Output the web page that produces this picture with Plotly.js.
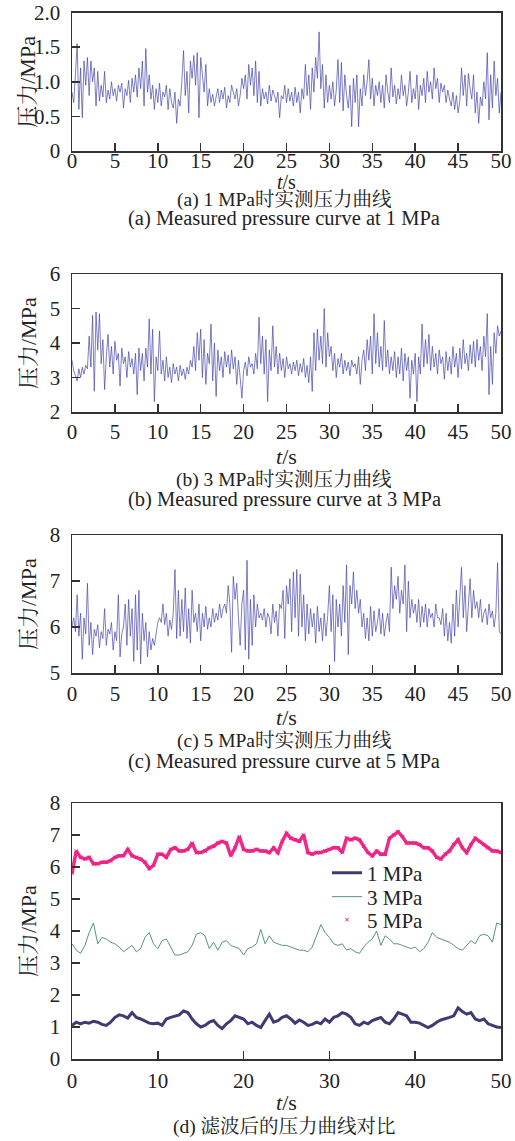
<!DOCTYPE html>
<html><head><meta charset="utf-8">
<script src="https://cdn.plot.ly/plotly-3.0.1.min.js"></script>
<style>html,body{margin:0;padding:0;background:#fff}#chart{width:515px;height:1141px}</style>
</head><body><div id="chart"></div>
<script>
// ---- data ----
// raw measured series, sampled every 0.2 s from 0 to 50 s
const raw1MPa = [
0.85,0.70,1.10,1.55,0.60,1.20,0.48,1.30,0.95,1.35,
0.80,1.30,1.00,1.20,0.65,1.15,0.72,0.95,0.78,1.15,
0.70,0.88,0.75,1.00,0.80,0.90,0.72,0.95,0.85,0.98,
0.62,0.90,0.80,1.02,0.70,1.05,0.85,1.10,0.78,1.20,
0.90,1.30,0.65,1.48,0.85,1.10,0.75,0.95,0.60,0.90,
0.70,0.98,0.65,0.85,0.78,0.95,0.60,0.90,0.70,0.62,
0.85,0.40,0.75,0.65,1.00,1.45,0.80,1.15,0.55,1.30,
1.05,1.38,0.95,1.42,0.48,1.35,1.10,0.85,1.25,0.65,
0.90,0.70,0.82,0.65,0.78,0.90,0.70,0.88,0.75,0.92,
0.62,0.80,0.70,0.95,0.85,0.75,0.90,0.65,0.80,1.05,
0.90,1.10,0.75,1.25,0.95,1.20,0.80,1.30,0.70,1.15,
0.65,0.90,0.75,0.85,0.68,0.95,0.72,0.88,0.80,0.70,
0.85,0.48,0.80,0.75,0.95,0.70,0.90,0.72,0.85,0.65,
0.92,0.70,0.85,0.55,0.90,0.75,1.25,0.80,1.10,0.60,
1.20,0.85,1.35,1.05,1.72,0.90,1.25,0.62,1.10,0.70,
0.95,0.75,1.00,0.65,0.88,1.32,0.70,1.28,0.58,1.10,
0.80,0.62,0.95,0.35,1.05,0.70,1.10,0.35,0.90,0.65,
1.10,0.80,1.00,1.32,0.75,1.05,0.65,0.95,0.80,1.00,
0.70,0.95,0.62,1.10,0.85,0.70,1.20,0.78,0.95,0.68,
0.90,0.75,1.10,0.80,0.95,0.65,0.85,1.15,0.70,0.90,
0.75,1.10,0.60,0.95,0.80,1.05,0.70,1.15,0.85,1.00,
0.75,1.20,0.90,1.05,0.70,0.98,0.85,0.95,0.70,0.88,
0.75,0.65,0.85,0.60,0.80,0.55,0.72,1.20,0.80,1.10,
0.65,1.12,0.90,0.75,1.10,0.55,0.85,0.40,0.78,0.65,
1.00,0.75,1.42,0.45,1.10,0.62,1.30,0.80,1.05,0.55,
0.85];
const raw3MPa = [
3.50,3.20,3.05,2.90,3.25,3.00,3.30,3.10,3.35,3.25,
4.20,3.30,4.80,2.60,4.90,3.80,4.85,3.40,4.10,2.65,
3.60,4.25,3.30,3.90,3.10,4.05,3.50,3.70,2.75,3.85,
3.40,3.60,3.00,3.75,3.30,3.55,3.10,3.70,2.50,3.85,
3.20,3.70,2.90,3.85,3.30,4.70,3.10,4.40,2.30,3.60,
3.20,4.35,3.10,3.50,2.90,3.60,3.00,3.30,2.85,3.40,
3.10,3.30,2.90,3.35,3.05,3.25,2.95,3.30,3.10,3.50,
3.30,3.90,3.20,4.30,3.50,4.40,3.00,4.10,2.80,3.70,
3.40,4.55,2.90,4.00,2.45,3.80,3.20,3.60,3.00,3.75,
3.30,3.65,3.10,3.80,3.25,3.60,2.80,3.50,3.00,2.40,
3.20,3.45,3.05,3.60,3.30,3.40,3.10,3.70,3.25,4.75,
3.40,4.20,3.10,4.10,2.30,3.80,3.20,4.50,3.30,3.90,
3.10,3.70,3.20,3.55,3.00,3.60,3.25,3.40,3.10,3.45,
3.20,3.50,3.05,3.40,3.15,3.55,3.00,3.35,2.85,3.60,
2.60,4.30,3.20,4.40,3.50,4.20,3.40,5.00,3.30,4.30,
3.60,3.90,3.20,3.70,3.00,3.55,3.30,3.70,3.10,3.50,
3.20,3.45,3.05,3.50,3.30,3.40,3.10,3.60,2.80,3.50,
3.80,3.20,4.10,3.50,4.20,3.10,4.85,3.40,4.30,3.30,
3.90,3.20,4.65,3.30,3.80,3.10,3.60,3.20,3.75,3.00,
3.60,3.10,3.85,2.90,3.70,3.20,3.60,2.40,3.50,3.10,
3.70,2.30,3.60,3.10,4.55,3.30,4.10,3.40,4.25,3.20,
3.90,3.30,3.70,3.10,3.80,3.40,3.60,2.95,3.75,3.20,
3.60,3.10,3.90,3.30,3.70,3.00,3.85,3.25,4.10,3.40,
3.70,3.20,3.95,3.40,4.05,3.30,4.10,3.50,3.90,3.20,
4.20,3.60,4.85,2.50,3.90,2.80,4.30,3.70,4.50,4.20,
4.35];
const raw5MPa = [
6.00,6.20,5.90,6.70,5.80,6.30,5.30,6.20,5.85,6.95,
5.60,6.10,5.40,5.95,5.80,6.05,5.55,5.90,5.75,6.40,
5.60,5.95,5.85,6.10,5.50,5.90,5.70,6.70,5.35,5.85,
6.00,6.50,5.60,6.60,5.80,6.40,5.25,6.70,5.50,6.80,
5.20,6.30,5.70,6.10,5.35,5.90,5.50,5.75,5.60,5.85,
6.10,6.20,6.10,6.50,6.05,6.30,5.80,6.15,5.95,6.30,
7.25,5.75,6.80,5.80,6.60,5.90,6.85,5.75,6.40,5.65,
6.80,6.10,6.30,5.90,6.50,5.70,6.30,6.00,6.45,5.95,
6.20,6.00,6.40,6.10,6.30,6.15,6.50,6.20,6.40,6.50,
6.30,6.90,6.50,5.45,7.10,6.60,6.95,6.20,5.60,6.50,
6.80,5.50,7.45,5.30,6.60,5.60,6.70,6.00,6.50,6.20,
6.30,6.15,6.40,6.00,6.30,6.20,5.85,6.50,6.10,6.35,
5.80,6.50,6.40,6.80,5.75,6.90,6.50,7.05,5.90,7.20,
6.20,7.25,5.80,7.15,6.00,6.70,5.70,6.50,5.85,6.40,
6.00,6.30,5.65,6.45,5.90,6.20,5.70,6.30,5.80,6.25,
6.90,5.90,6.70,5.25,6.60,6.00,6.50,5.80,6.90,6.10,
7.35,5.40,6.90,6.50,7.20,6.40,6.80,6.30,6.60,6.00,
6.30,5.75,6.20,5.70,6.45,5.80,6.35,5.90,6.10,6.40,
5.85,6.30,5.80,6.10,6.30,5.90,7.30,6.40,6.90,6.60,
7.10,6.30,6.80,6.50,7.35,5.90,7.00,6.20,6.60,6.30,
6.50,6.10,6.60,6.00,6.45,6.10,6.50,6.00,6.40,6.20,
6.30,6.00,6.50,6.20,6.20,6.05,6.40,5.80,6.30,5.70,
6.10,5.65,6.50,5.80,6.80,6.00,6.60,7.30,6.20,6.90,
5.90,6.60,7.05,6.20,6.80,6.40,6.55,6.20,6.60,6.10,
6.30,6.40,6.05,6.50,6.20,6.35,6.00,6.30,7.40,5.90,
5.85];
// filtered series, sampled every 0.5 s from 0 to 50 s
const filt1MPa = [
1.05,1.15,1.10,1.15,1.12,1.18,1.15,1.08,1.05,1.15,
1.30,1.38,1.35,1.28,1.45,1.30,1.25,1.18,1.12,1.10,
1.12,1.05,1.25,1.30,1.35,1.38,1.50,1.45,1.25,1.10,
1.00,1.05,1.15,1.20,1.05,0.95,1.10,1.20,1.35,1.30,
1.25,1.10,1.15,1.05,0.98,1.20,1.40,1.15,1.20,1.30,
1.35,1.25,1.12,1.22,1.15,1.05,1.08,1.15,1.10,1.25,
1.15,1.30,1.35,1.45,1.40,1.30,1.10,1.05,1.15,1.10,
1.20,1.25,1.30,1.15,1.10,1.25,1.45,1.40,1.35,1.15,
1.15,1.12,1.05,0.98,1.05,1.15,1.22,1.25,1.30,1.35,
1.60,1.48,1.40,1.45,1.25,1.20,1.25,1.10,1.05,1.00,
0.98];
const filt3MPa = [
3.60,3.40,3.30,3.55,3.95,4.25,3.60,3.80,3.75,3.65,
3.60,3.50,3.35,3.45,3.55,3.35,3.45,3.80,3.95,3.60,
3.45,3.70,3.75,3.50,3.25,3.25,3.30,3.35,3.55,3.90,
3.95,3.85,3.45,3.65,3.40,3.65,3.70,3.55,3.50,3.45,
3.25,3.45,3.50,3.60,4.05,3.60,3.85,3.65,3.60,3.55,
3.55,3.50,3.45,3.40,3.40,3.35,3.50,3.85,4.20,3.95,
3.80,3.60,3.55,3.60,3.40,3.45,3.35,3.30,3.50,3.65,
3.75,4.00,3.55,3.85,3.75,3.60,3.60,3.55,3.50,3.45,
3.50,3.35,3.45,3.65,3.95,3.80,3.75,3.70,3.65,3.55,
3.45,3.40,3.55,3.70,3.60,3.85,3.90,3.85,3.65,4.25,
4.20];
const filt5MPa = [
5.80,6.50,6.30,6.25,6.30,6.10,6.10,6.15,6.15,6.20,
6.30,6.35,6.35,6.55,6.35,6.30,6.25,6.15,5.95,6.05,
6.40,6.40,6.30,6.55,6.60,6.50,6.50,6.55,6.75,6.45,
6.45,6.50,6.60,6.65,6.75,6.80,6.75,6.35,6.60,6.95,
6.55,6.50,6.50,6.55,6.50,6.50,6.45,6.60,6.45,6.80,
7.05,6.90,6.85,6.80,7.00,6.45,6.40,6.45,6.45,6.50,
6.55,6.60,6.60,6.45,6.90,6.85,6.90,6.85,6.65,6.45,
6.35,6.50,6.40,6.40,6.90,7.00,7.10,6.95,6.75,6.75,
6.75,6.70,6.60,6.60,6.50,6.30,6.25,6.40,6.50,6.70,
6.85,6.60,6.45,6.70,6.90,6.80,6.70,6.60,6.50,6.50,
6.45];
// tick labels
const xTicks5 = [0,5,10,15,20,25,30,35,40,45,50];
const xTicks10 = [0,10,20,30,40,50];
const yTicksA = [0,0.5,1.0,1.5,2.0];
const yTextA = ['0','0.5','1.0','1.5','2.0'];
const yTicksB = [2,3,4,5,6];
const yTicksC = [5,6,7,8];
const yTicksD = [0,1,2,3,4,5,6,7,8];
const seriesNames = ['1 MPa','3 MPa','5 MPa'];
const captions = [
  ['(a) 1 MPa时实测压力曲线','(a) Measured pressure curve at 1 MPa'],
  ['(b) 3 MPa时实测压力曲线','(b) Measured pressure curve at 3 MPa'],
  ['(c) 5 MPa时实测压力曲线','(c) Measured pressure curve at 5 MPa'],
  ['(d) 滤波后的压力曲线对比']
];
const yTitle = '压力/MPa';
const xTitle = '<i>t</i>/s';

// ---- sampling grids ----
function grid(n, dt){ const a=[]; for(let i=0;i<n;i++) a.push(+(i*dt).toFixed(2)); return a; }
const tRaw = grid(raw1MPa.length, 0.2);
const tFilt = grid(filt1MPa.length, 0.5);

// ---- layout helpers ----
const W=515, H=1141;
const FONT = "'Liberation Serif','Times New Roman','Noto Serif CJK SC','Noto Sans CJK SC',serif";
const TXT = '#222';
const xDom = [72/W, 501/W];
const panels = [ // px positions
  {top:12.5, bottom:151, lab:-10, tt:182, ts:20, c1:200, c2:219},
  {top:274, bottom:412, lab:0, tt:456, ts:22, c1:480, c2:500},
  {top:535, bottom:673, lab:1, tt:717, ts:22, c1:741, c2:761},
  {top:803, bottom:1059, lab:2, tt:1102, ts:22, c1:1127}
];
function yd(p){ return [1-p.bottom/H, 1-p.top/H]; }
function py(v){ return 1-v/H; }
function baseAx(extra){
  return Object.assign({
    showline:true, mirror:true, linecolor:'#333', linewidth:1.5,
    ticks:'inside', ticklen:8, tickwidth:1.5, tickcolor:'#333',
    showgrid:false, zeroline:false, fixedrange:true,
    tickfont:{family:FONT, size:21, color:TXT}
  }, extra);
}
const rawColor = '#4646aa';
const traces = [
  {x:tRaw, y:raw1MPa, xaxis:'x', yaxis:'y', mode:'lines', line:{color:rawColor, width:0.7}, showlegend:false, hoverinfo:'skip'},
  {x:tRaw, y:raw3MPa, xaxis:'x2', yaxis:'y2', mode:'lines', line:{color:rawColor, width:0.7}, showlegend:false, hoverinfo:'skip'},
  {x:tRaw, y:raw5MPa, xaxis:'x3', yaxis:'y3', mode:'lines', line:{color:rawColor, width:0.7}, showlegend:false, hoverinfo:'skip'},
  {x:tFilt, y:filt1MPa, xaxis:'x4', yaxis:'y4', mode:'lines', name:seriesNames[0], legend:'legend', line:{color:'#3f3b72', width:3}},
  {x:tFilt, y:filt3MPa, xaxis:'x4', yaxis:'y4', mode:'lines', name:seriesNames[1], legend:'legend2', line:{color:'#5a9478', width:1}},
  {x:tFilt, y:filt5MPa, xaxis:'x4', yaxis:'y4', mode:'lines', line:{color:'#ee2a8a', width:3.5}, showlegend:false, hoverinfo:'skip'},
  {x:tFilt, y:filt5MPa, xaxis:'x4', yaxis:'y4', mode:'markers', name:seriesNames[2], legend:'legend3', marker:{symbol:'x-thin', size:3.5, color:'#ec1c80', line:{color:'#ec1c80', width:1}}}
];
function leg(cy){ return {x:327/W, y:py(cy), xanchor:'left', yanchor:'middle', bgcolor:'rgba(0,0,0,0)', font:{family:FONT,size:21,color:TXT}, itemwidth:30}; }
const layout = {
  width:W, height:H, margin:{l:0,r:0,t:0,b:0}, paper_bgcolor:'#fff', plot_bgcolor:'#fff',
  font:{family:FONT, size:21, color:TXT},
  showlegend:true,
  legend:leg(873), legend2:leg(897), legend3:leg(920),
  xaxis: baseAx({domain:xDom, anchor:'y', range:[0,50], tickvals:xTicks5, ticktext:xTicks5.map(String), ticklabelstandoff:panels[0].lab}),
  yaxis: baseAx({domain:yd(panels[0]), anchor:'x', range:[0,2], tickvals:yTicksA, ticktext:yTextA, ticklabelstandoff:6}),
  xaxis2: baseAx({domain:xDom, anchor:'y2', range:[0,50], tickvals:xTicks5, ticktext:xTicks5.map(String), ticklabelstandoff:panels[1].lab}),
  yaxis2: baseAx({domain:yd(panels[1]), anchor:'x2', range:[2,6], tickvals:yTicksB, ticktext:yTicksB.map(String), ticklabelstandoff:6}),
  xaxis3: baseAx({domain:xDom, anchor:'y3', range:[0,50], tickvals:xTicks5, ticktext:xTicks5.map(String), ticklabelstandoff:panels[2].lab}),
  yaxis3: baseAx({domain:yd(panels[2]), anchor:'x3', range:[5,8], tickvals:yTicksC, ticktext:yTicksC.map(String), ticklabelstandoff:6}),
  xaxis4: baseAx({domain:xDom, anchor:'y4', range:[0,50], tickvals:xTicks10, ticktext:xTicks10.map(String), ticklabelstandoff:panels[3].lab}),
  yaxis4: baseAx({domain:yd(panels[3]), anchor:'x4', range:[0,8], tickvals:yTicksD, ticktext:yTicksD.map(String), ticklabelstandoff:6}),
  annotations:[]
};
const xc = (xDom[0]+xDom[1])/2;
panels.forEach((p,i)=>{
  const ann = layout.annotations;
  ann.push({xref:'paper', yref:'paper', x:xc, y:py(p.tt), xanchor:'center', yanchor:'middle', text:xTitle, showarrow:false, font:{family:FONT,size:p.ts,color:TXT}});
  ann.push({xref:'paper', yref:'paper', x:28/W, y:py((p.top+p.bottom)/2), xanchor:'center', yanchor:'middle', text:yTitle, textangle:-90, showarrow:false, font:{family:FONT,size:22,color:TXT}});
  ann.push({xref:'paper', yref:'paper', x:284/W, y:py(p.c1), xanchor:'center', yanchor:'middle', text:captions[i][0], showarrow:false, font:{family:FONT,size:19.5,color:TXT}});
  if(captions[i][1]) ann.push({xref:'paper', yref:'paper', x:284/W, y:py(p.c2), xanchor:'center', yanchor:'middle', text:captions[i][1], showarrow:false, font:{family:FONT,size:20.5,color:TXT}});
});
Plotly.newPlot('chart', traces, layout, {staticPlot:true, displayModeBar:false});
</script></body></html>
